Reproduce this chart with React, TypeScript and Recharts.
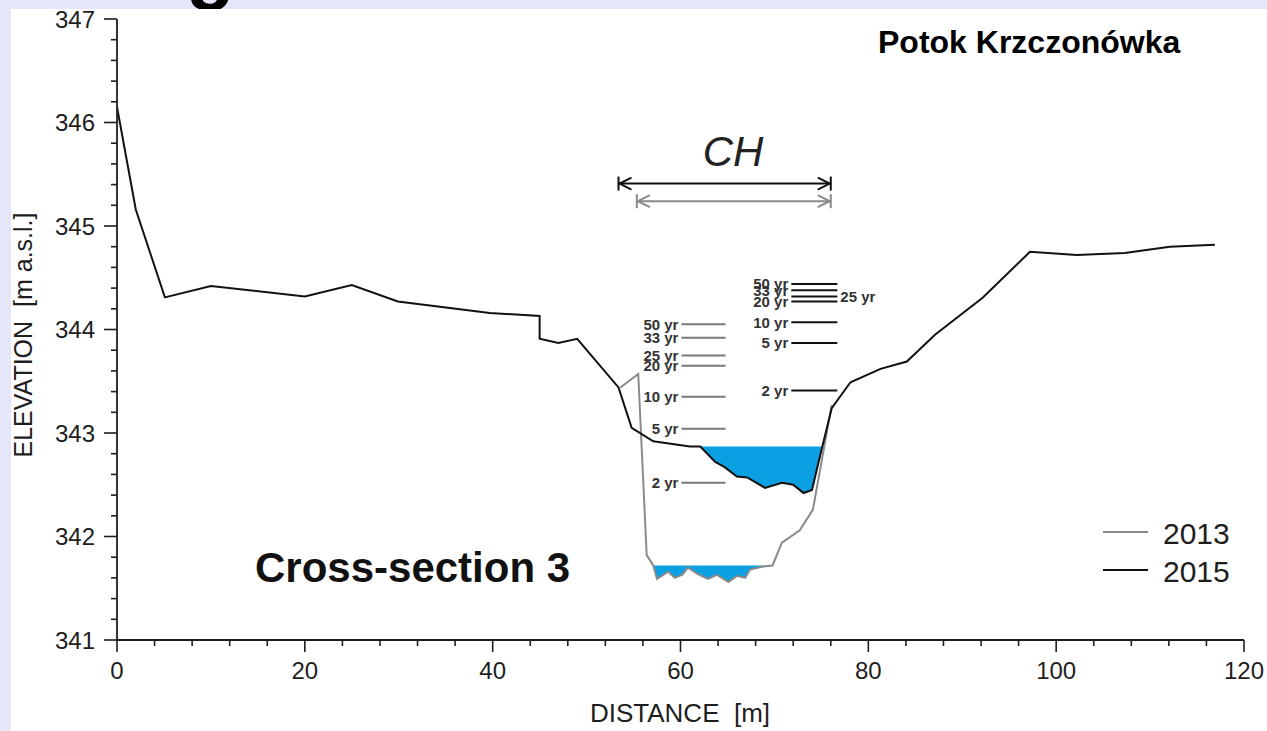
import { Area, ComposedChart, Line, ReferenceLine, XAxis, YAxis } from "recharts";

// 2015 survey (black)
const dist2015 = [0, 2.0, 5.1, 10.0, 20.0, 25.0, 29.9, 39.7, 45.0, 45.0, 47.0, 49.0, 53.4, 54.8, 57.1, 61.0, 62.1, 63.7, 64.7, 66.0, 67.1, 69.0, 70.8, 72.0, 73.1, 74.0, 75.1, 76.1, 78.1, 81.3, 84.1, 87.1, 92.2, 97.2, 102.2, 107.3, 112.1, 116.9];
const elev2015 = [346.15, 345.16, 344.31, 344.42, 344.32, 344.43, 344.27, 344.16, 344.13, 343.91, 343.87, 343.91, 343.44, 343.05, 342.92, 342.87, 342.87, 342.72, 342.67, 342.58, 342.57, 342.47, 342.52, 342.5, 342.42, 342.45, 342.87, 343.24, 343.49, 343.62, 343.69, 343.95, 344.31, 344.75, 344.72, 344.74, 344.8, 344.82];

// 2013 survey (grey), channel part only
const dist2013 = [53.6, 55.5, 56.4, 57.1, 57.5, 58.7, 59.4, 60.2, 60.8, 61.8, 62.9, 63.9, 65.1, 66.0, 66.9, 67.4, 68.8, 69.8, 70.8, 72.7, 74.1, 76.1];
const elev2013 = [343.44, 343.57, 341.82, 341.72, 341.59, 341.66, 341.6, 341.63, 341.7, 341.64, 341.59, 341.63, 341.56, 341.62, 341.6, 341.68, 341.71, 341.72, 341.94, 342.06, 342.26, 343.27];

// water surfaces
const water2015Level = 342.87;
const water2015Dist = [62.1, 63.7, 64.7, 66.0, 67.1, 69.0, 70.8, 72.0, 73.1, 74.0, 75.1];
const water2015Bed = [342.87, 342.72, 342.67, 342.58, 342.57, 342.47, 342.52, 342.5, 342.42, 342.45, 342.87];
const water2013Level = 341.72;
const water2013Dist = [57.1, 57.5, 58.7, 59.4, 60.2, 60.8, 61.8, 62.9, 63.9, 65.1, 66.0, 66.9, 67.4, 68.8, 69.8];
const water2013Bed = [341.72, 341.59, 341.66, 341.6, 341.63, 341.7, 341.64, 341.59, 341.63, 341.56, 341.62, 341.6, 341.68, 341.71, 341.72];

// flood return periods
const rp2013Labels = ["50 yr", "33 yr", "25 yr", "20 yr", "10 yr", "5 yr", "2 yr"];
const rp2013Elev = [344.05, 343.92, 343.75, 343.65, 343.35, 343.04, 342.52];
const rp2013Span = [60.1, 64.8];
const rp2015Labels = ["50 yr", "33 yr", "25 yr", "20 yr", "10 yr", "5 yr", "2 yr"];
const rp2015Elev = [344.44, 344.38, 344.32, 344.27, 344.07, 343.87, 343.41];
const rp2015Span = [71.8, 76.7];

// channel width arrows
const ch2015 = [53.4, 76.0, 345.41];
const ch2013 = [55.35, 76.0, 345.24];

const xMajor = [0, 20, 40, 60, 80, 100, 120];
const yMajor = [341, 342, 343, 344, 345, 346, 347];
const xTicks = Array.from({ length: 31 }, (_, i) => i * 4);
const yTicks = Array.from({ length: 31 }, (_, i) => Math.round((341 + i * 0.2) * 10) / 10);

const line2015 = dist2015.map((x, i) => ({ x, y: elev2015[i] }));
const line2013 = dist2013.map((x, i) => ({ x, y: elev2013[i] }));
const pool2015 = water2015Dist.map((x, i) => ({ x, y: [water2015Bed[i], water2015Level] }));
const pool2013 = water2013Dist.map((x, i) => ({ x, y: [water2013Bed[i], water2013Level] }));

const FONT = "'Liberation Sans', Arial, sans-serif";
const INK = "#1e1e1e";
const WATER = "#0aa0e2";

const YTick = (p: any) => {
  const v = p.payload.value;
  const major = yMajor.includes(v);
  return (
    <g>
      <line x1={p.x - (major ? 13 : 6)} x2={p.x} y1={p.y} y2={p.y} stroke={INK} strokeWidth={1.6} />
      {major && (
        <text x={p.x - 22} y={p.y} dy="0.36em" textAnchor="end" fontSize={24} fontFamily={FONT} fill={INK}>
          {v}
        </text>
      )}
    </g>
  );
};

const XTick = (p: any) => {
  const v = p.payload.value;
  const major = xMajor.includes(v);
  return (
    <g>
      <line x1={p.x} x2={p.x} y1={p.y} y2={p.y + (major ? 12 : 6)} stroke={INK} strokeWidth={1.6} />
      {major && (
        <text x={p.x} y={p.y + 39} textAnchor="middle" fontSize={24} fontFamily={FONT} fill={INK}>
          {v}
        </text>
      )}
    </g>
  );
};

const rpShape = (label: string, color: string, side: "left" | "right") => (p: any) => (
  <g>
    <line x1={p.x1} y1={p.y1} x2={p.x2} y2={p.y2} stroke={color} strokeWidth={2} />
    <text
      x={side === "left" ? p.x1 - 3 : p.x2 + 3}
      y={p.y1}
      dy="0.36em"
      textAnchor={side === "left" ? "end" : "start"}
      fontSize={15}
      fontWeight="bold"
      fontFamily={FONT}
      fill="#333"
    >
      {label}
    </text>
  </g>
);

const arrowShape = (color: string) => (p: any) => {
  const { x1, x2, y1 } = p;
  return (
    <g stroke={color} strokeWidth={2} fill="none">
      <line x1={x1} y1={y1} x2={x2} y2={y1} />
      <line x1={x1} y1={y1 - 7} x2={x1} y2={y1 + 7} />
      <line x1={x2} y1={y1 - 7} x2={x2} y2={y1 + 7} />
      <polyline points={`${x1 + 13},${y1 - 6} ${x1 + 1},${y1} ${x1 + 13},${y1 + 6}`} />
      <polyline points={`${x2 - 13},${y1 - 6} ${x2 - 1},${y1} ${x2 - 13},${y1 + 6}`} />
    </g>
  );
};

export default function App() {
  return (
    <div style={{ position: "absolute", left: 0, top: 0, width: 1267, height: 731, background: "#e6e6fa", overflow: "hidden" }}>
      {/* bottom of a page heading that is cut off above the figure */}
      <div style={{ position: "absolute", left: 186, top: -73, fontFamily: FONT, fontWeight: "bold", fontSize: 80, lineHeight: "80px", color: "#000" }}>g</div>
      <div style={{ position: "absolute", left: 11, top: 9, right: 0, bottom: 0, background: "#fff" }} />
      <div style={{ position: "absolute", left: 0, top: 0 }}>
        <ComposedChart width={1267} height={731} margin={{ top: 19, right: 23, bottom: 51, left: 57 }}>
          <XAxis
            type="number"
            dataKey="x"
            domain={[0, 120]}
            ticks={xTicks}
            interval={0}
            tick={<XTick />}
            tickSize={0}
            tickMargin={0}
            tickLine={false}
            height={40}
            axisLine={{ stroke: INK, strokeWidth: 1.8 }}
            allowDataOverflow
          />
          <YAxis
            type="number"
            dataKey="y"
            domain={[341, 347]}
            ticks={yTicks}
            interval={0}
            tick={<YTick />}
            tickSize={0}
            tickMargin={0}
            tickLine={false}
            width={60}
            axisLine={{ stroke: INK, strokeWidth: 1.8 }}
            allowDataOverflow
          />
          <Area data={pool2015} type="linear" dataKey="y" stroke="none" fill={WATER} fillOpacity={1} isAnimationActive={false} />
          <Area data={pool2013} type="linear" dataKey="y" stroke="none" fill={WATER} fillOpacity={1} isAnimationActive={false} />
          <Line data={line2013} type="linear" dataKey="y" stroke="#8a8a8a" strokeWidth={2} dot={false} isAnimationActive={false} />
          <Line data={line2015} type="linear" dataKey="y" stroke="#111" strokeWidth={2} dot={false} isAnimationActive={false} />
          {rp2013Elev.map((e, i) => (
            <ReferenceLine
              key={"a" + i}
              segment={[{ x: rp2013Span[0], y: e }, { x: rp2013Span[1], y: e }]}
              shape={rpShape(rp2013Labels[i], "#7a7a7a", "left")}
            />
          ))}
          {rp2015Elev.map((e, i) => (
            <ReferenceLine
              key={"b" + i}
              segment={[{ x: rp2015Span[0], y: e }, { x: rp2015Span[1], y: e }]}
              shape={rpShape(rp2015Labels[i], "#111", rp2015Labels[i] === "25 yr" ? "right" : "left")}
            />
          ))}
          <ReferenceLine segment={[{ x: ch2015[0], y: ch2015[2] }, { x: ch2015[1], y: ch2015[2] }]} shape={arrowShape("#111")} />
          <ReferenceLine segment={[{ x: ch2013[0], y: ch2013[2] }, { x: ch2013[1], y: ch2013[2] }]} shape={arrowShape("#8a8a8a")} />
        </ComposedChart>
      </div>
      <svg width={1267} height={731} style={{ position: "absolute", left: 0, top: 0, pointerEvents: "none" }} fontFamily={FONT}>
        <text x={733} y={166} textAnchor="middle" fontSize={42} fontStyle="italic" fill="#222">CH</text>
        <text x={878} y={53} fontSize={32} fontWeight="bold" fill="#000">Potok Krzczonówka</text>
        <text x={255} y={582} fontSize={42} fontWeight="bold" fill="#111">Cross-section 3</text>
        <line x1={1103} x2={1148} y1={532} y2={532} stroke="#8a8a8a" strokeWidth={2} />
        <line x1={1103} x2={1148} y1={570} y2={570} stroke="#111" strokeWidth={2} />
        <text x={1163} y={544} fontSize={30} fill={INK}>2013</text>
        <text x={1163} y={582} fontSize={30} fill={INK}>2015</text>
        <text x={680} y={722} textAnchor="middle" fontSize={26} fill={INK} style={{ whiteSpace: "pre" }}>DISTANCE  [m]</text>
        <text x={32} y={335} textAnchor="middle" fontSize={25} fill={INK} transform="rotate(-90 32 335)" style={{ whiteSpace: "pre" }}>ELEVATION  [m a.s.l.]</text>
      </svg>
    </div>
  );
}
